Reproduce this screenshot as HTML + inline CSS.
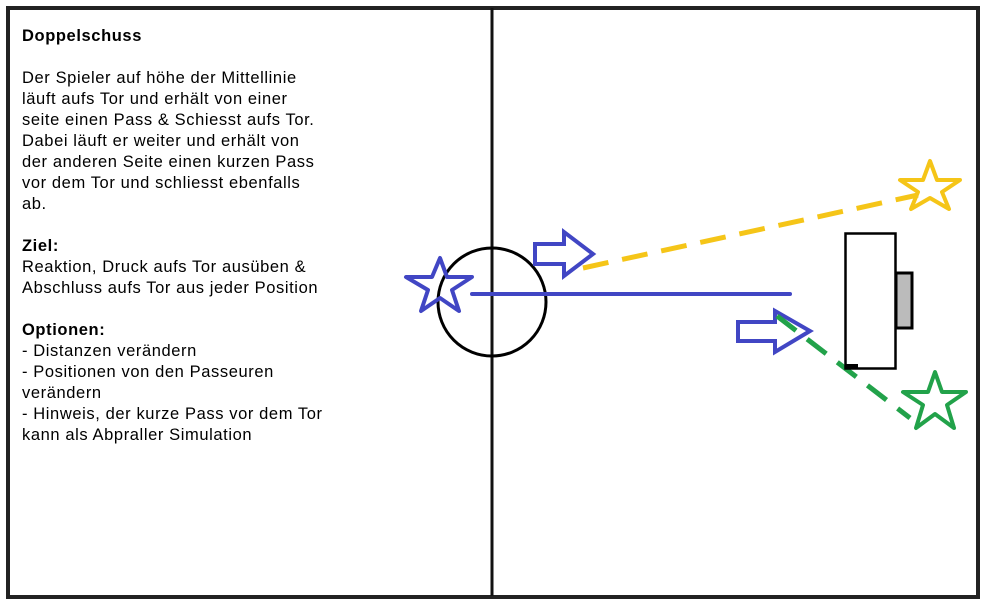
<!DOCTYPE html>
<html><head><style>
body{margin:0;background:#fff;width:983px;height:603px;overflow:hidden;position:relative;font-family:"Liberation Sans",Arial,sans-serif}
#frame{position:absolute;left:6px;top:6px;width:966px;height:585px;border:4px solid #222}
#txt{position:absolute;left:22px;top:26px;width:340px;height:423px;overflow:hidden;font-size:16.5px;letter-spacing:0.6px;line-height:21px;color:#000;white-space:nowrap}
</style></head><body>
<div id="frame"></div>
<svg width="983" height="603" style="position:absolute;left:0;top:0">
<line x1="492" y1="8" x2="492" y2="596" stroke="#111" stroke-width="3"/>
<ellipse cx="492" cy="302" rx="54" ry="54" fill="none" stroke="#000" stroke-width="3"/>
<line x1="472" y1="294" x2="790" y2="294" stroke="#4146c4" stroke-width="4" stroke-linecap="round"/>
<polygon points="440,258 447,277 472,277 452,290 459,311 440,298 421,311 428,290 406,277 432,277" fill="none" stroke="#4146c4" stroke-width="4" stroke-linejoin="round"/>
<polygon points="535,244 564,244 564,232 593,254 564,276 564,264 535,264" fill="none" stroke="#4146c4" stroke-width="4"/>
<polygon points="738,322 775,322 775,311 810,331 775,352 775,341 738,341" fill="none" stroke="#4146c4" stroke-width="4"/>
<line x1="583" y1="268" x2="918" y2="195" stroke="#f5c518" stroke-width="5" stroke-dasharray="26,14"/>
<polygon points="930,161 937,180 960,180 942,192 949,209 930,198 911,209 918,192 900,180 923,180" fill="none" stroke="#f5c518" stroke-width="4" stroke-linejoin="round"/>
<line x1="777" y1="316" x2="910" y2="418" stroke="#22a24a" stroke-width="5" stroke-dasharray="24,14"/>
<polygon points="935,372 942,392 966,392 947,405 954,428 935,414 916,428 923,405 903,392 928,392" fill="none" stroke="#22a24a" stroke-width="4" stroke-linejoin="round"/>
<rect x="845.5" y="233.5" width="50" height="135" fill="#fff" stroke="#000" stroke-width="2.5"/>
<rect x="896" y="273" width="16" height="55" fill="#bbb" stroke="#000" stroke-width="3"/>
<rect x="845" y="364" width="13" height="4" fill="#000"/>
</svg>
<div id="txt"><b>Doppelschuss</b><br><br>Der Spieler auf höhe der Mittellinie<br>läuft aufs Tor und erhält von einer<br>seite einen Pass &amp; Schiesst aufs Tor.<br>Dabei läuft er weiter und erhält von<br>der anderen Seite einen kurzen Pass<br>vor dem Tor und schliesst ebenfalls<br>ab.<br><br><b>Ziel:</b><br>Reaktion, Druck aufs Tor ausüben &amp;<br>Abschluss aufs Tor aus jeder Position<br><br><b>Optionen:</b><br>- Distanzen verändern<br>- Positionen von den Passeuren<br>verändern<br>- Hinweis, der kurze Pass vor dem Tor<br>kann als Abpraller Simulation<br>verwendet werden</div>
</body></html>
